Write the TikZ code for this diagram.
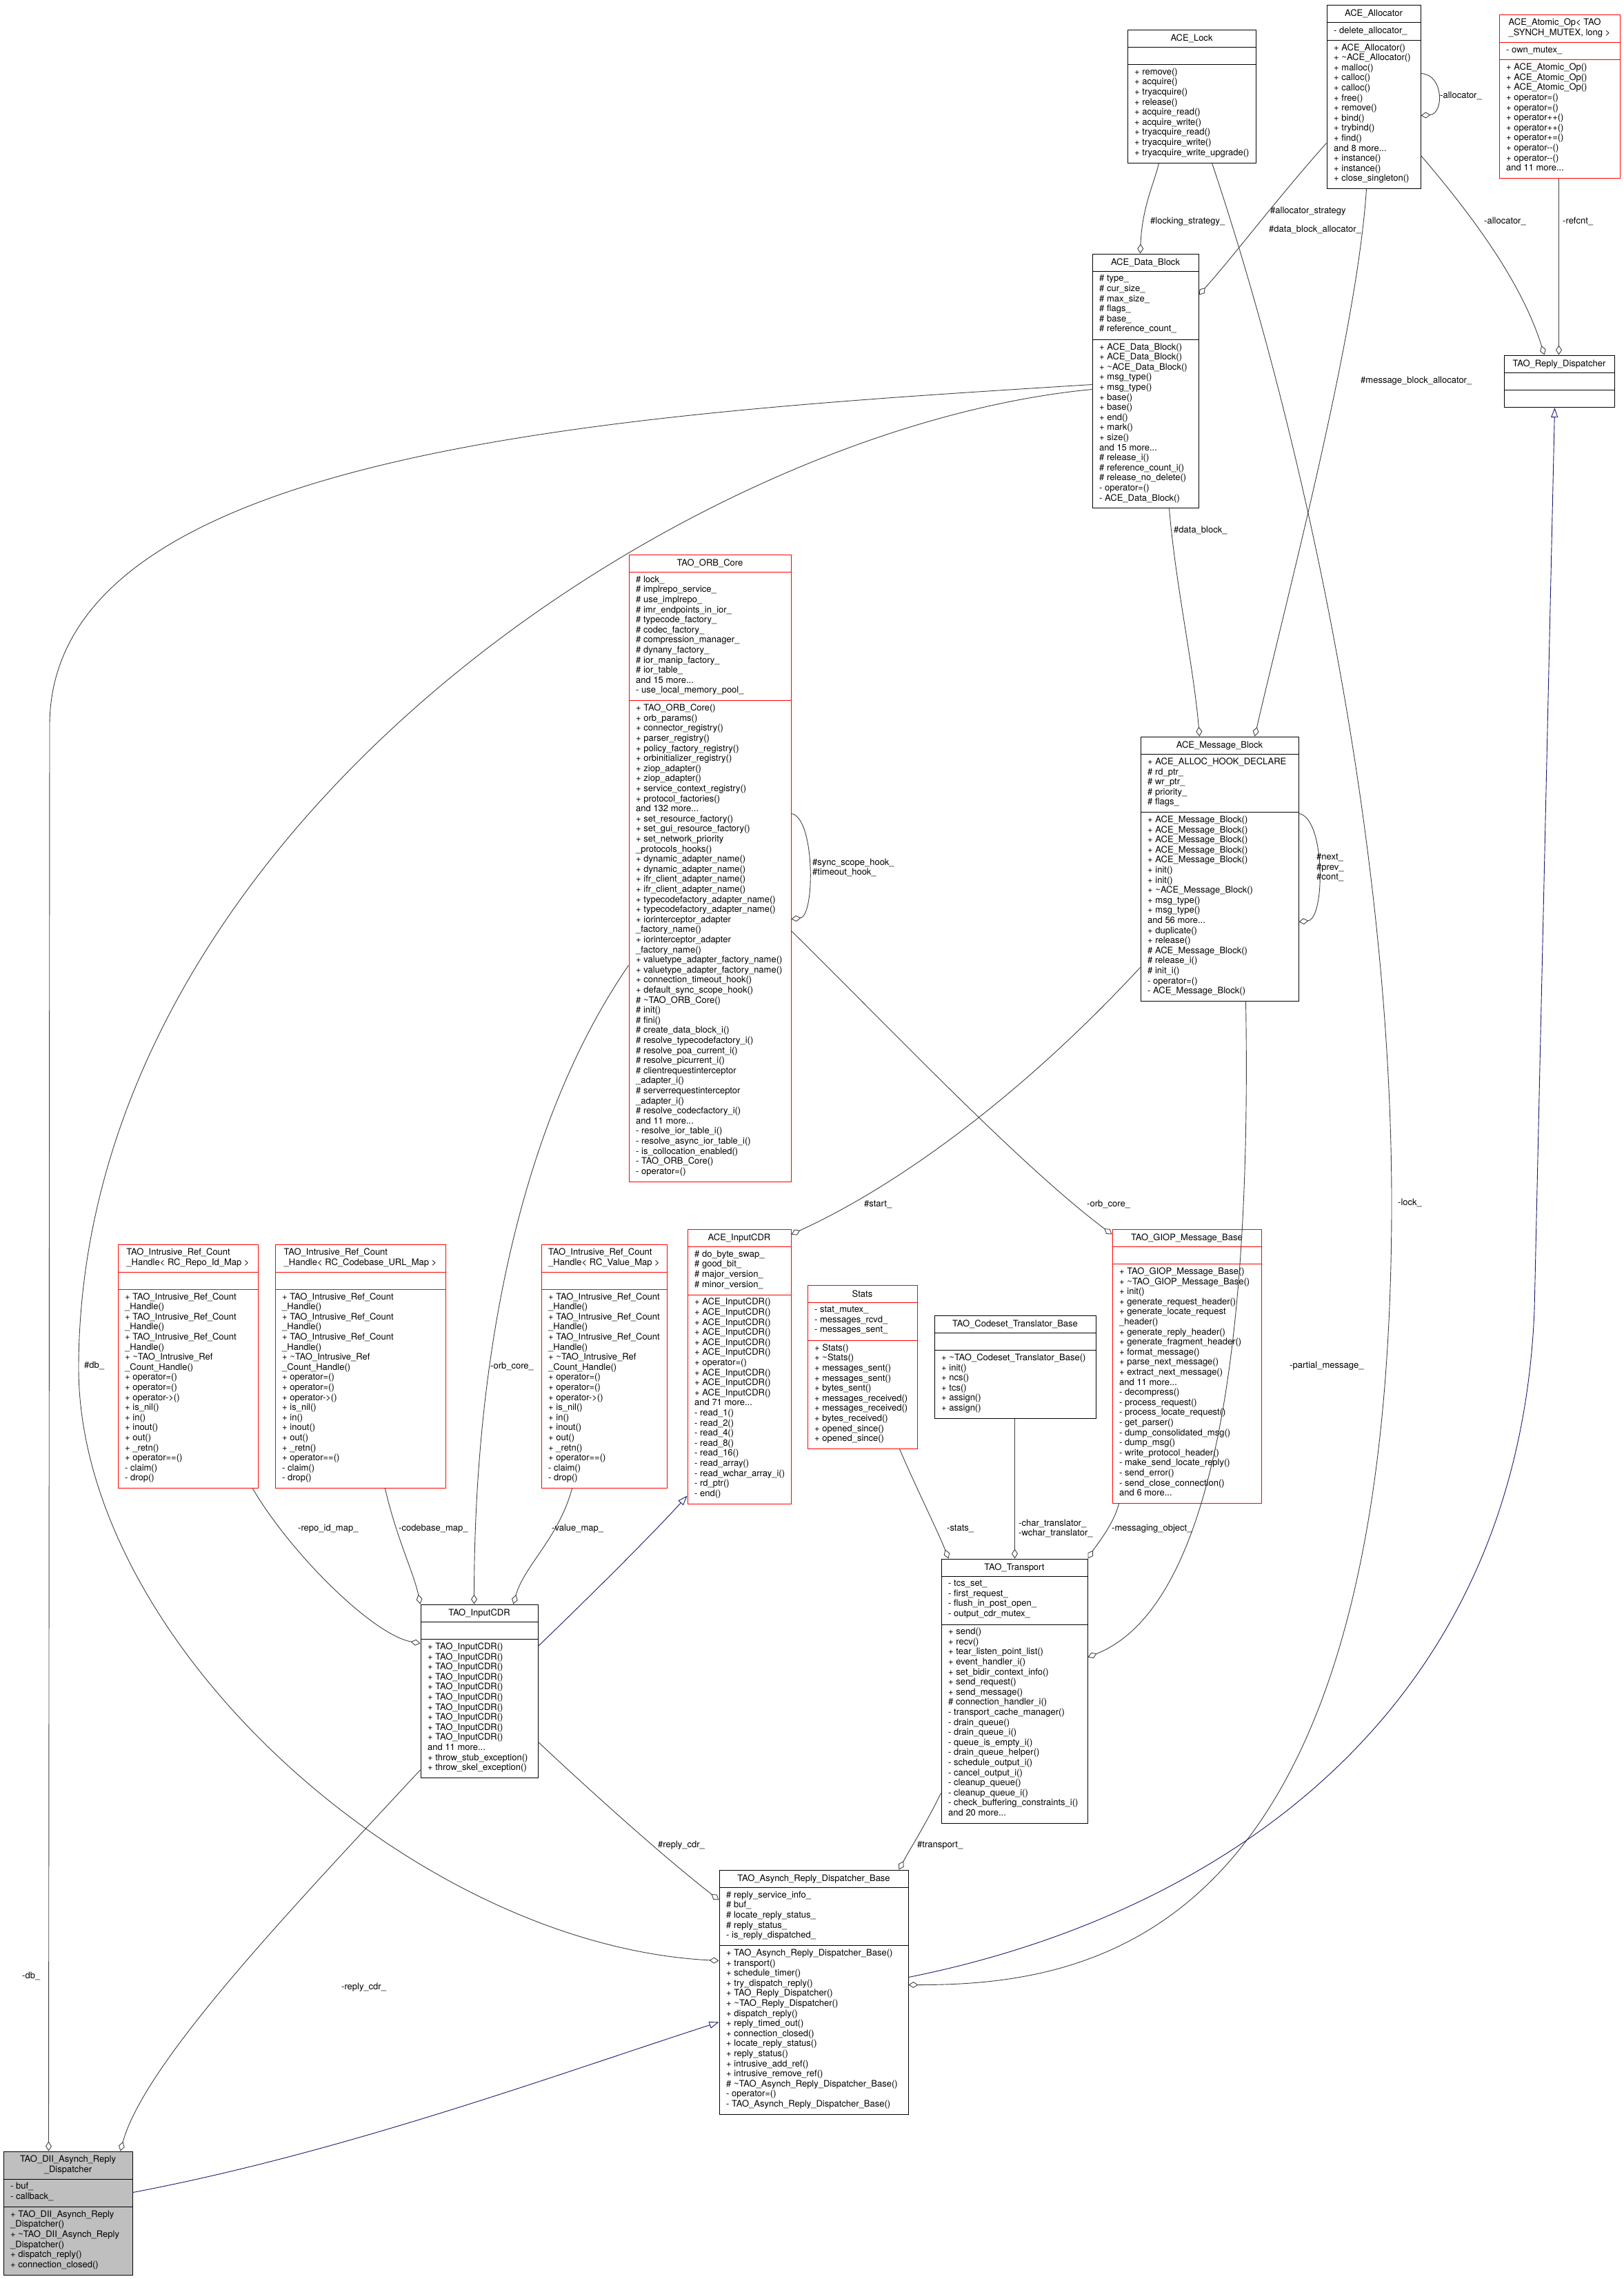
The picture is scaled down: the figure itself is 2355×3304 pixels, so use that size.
\documentclass[tikz,border=0pt]{standalone}
\usepackage{fontspec}
\setmainfont{TeX Gyre Heros}
\usetikzlibrary{arrows.meta, calc, fit}
\definecolor{doxyRed}{HTML}{FF0000}
\definecolor{doxyGrey}{HTML}{BFBFBF}
\definecolor{edgeGrey}{HTML}{404040}
\definecolor{baseBlue}{HTML}{191970}
\newcommand{\classfont}{\fontsize{13}{14.6}\selectfont}
\newcommand{\dtor}{\textasciitilde}
\newcommand{\lefttitle}[1]{\begin{tabular}{@{}l@{}}#1\end{tabular}}
\newcommand{\refhandleops}{+ TAO\_Intrusive\_Ref\_Count\\\_Handle()\\+ TAO\_Intrusive\_Ref\_Count\\\_Handle()\\+ TAO\_Intrusive\_Ref\_Count\\\_Handle()\\+ \dtor TAO\_Intrusive\_Ref\\\_Count\_Handle()\\+ operator=()\\+ operator=()\\+ operator->()\\+ is\_nil()\\+ in()\\+ inout()\\+ out()\\+ \_retn()\\+ operator==()\\- claim()\\- drop()}
% caja de clase: nombre, estilo, x, arriba, derecha, lineas titulo/atributos/metodos, titulo
\newcommand{\umlclass}[9]{%
  \pgfmathsetmacro{\ya}{#4+#6*14.6+11}%
  \pgfmathsetmacro{\yb}{\ya+ifthenelse(#7==0,25,#7*14.6+11)}%
  \pgfmathsetmacro{\yc}{\yb+ifthenelse(#8==0,25,#8*14.6+11)}%
  \node[classbox, #2, fit={(#3,#4) (#5,\yc)}] (#1) {};
  \draw[#2, line width=1pt, fill=none] (#3,\ya) -- (#5,\ya) (#3,\yb) -- (#5,\yb);
  \node[classtitle] (#1-t) at ($(#3,#4)!0.5!(#5,\ya)$) {#9};
  \coordinate (#1-a) at (#3,\ya);
  \coordinate (#1-m) at (#3,\yb);
}
\tikzset{
  classbox/.style={inner sep=0pt, line width=1pt},
  plainbox/.style={draw=black, fill=white},
  redbox/.style={draw=doxyRed, fill=white},
  hostbox/.style={draw=black, fill=doxyGrey},
  classtitle/.style={font=\classfont, align=center, inner sep=0pt},
  members/.style={font=\classfont, align=left, inner sep=0pt, anchor=north west, execute at begin node=\strut},
  elabel/.style={font=\classfont, align=left, inner sep=0pt, anchor=west},
  member/.style={draw=edgeGrey, line width=0.9pt, -{Diamond[open, length=14pt, width=9pt]}},
  inherit/.style={draw=baseBlue, line width=0.9pt, -{Triangle[open, length=14pt, width=10pt]}}
}

\begin{document}
\begin{tikzpicture}[x=1pt, y=-1pt]
    \useasboundingbox (0,0) rectangle (2355,3304);

    % clases de arriba
    \umlclass{lock}{plainbox}{1635}{43}{1821}{1}{0}{9}{ACE\_Lock}
    \node[members] (lock-ops) at ($(lock-m)+(10,5)$) {+ remove()\\+ acquire()\\+ tryacquire()\\+ release()\\+ acquire\_read()\\+ acquire\_write()\\+ tryacquire\_read()\\+ tryacquire\_write()\\+ tryacquire\_write\_upgrade()};

    \umlclass{alloc}{plainbox}{1924}{7}{2060}{1}{1}{14}{ACE\_Allocator}
    \node[members] (alloc-attrs) at ($(alloc-a)+(10,5)$) {- delete\_allocator\_};
    \node[members] (alloc-ops) at ($(alloc-m)+(10,5)$) {+ ACE\_Allocator()\\+ \dtor ACE\_Allocator()\\+ malloc()\\+ calloc()\\+ calloc()\\+ free()\\+ remove()\\+ bind()\\+ trybind()\\+ find()\\and 8 more...\\+ instance()\\+ instance()\\+ close\_singleton()};

    \umlclass{atomic}{redbox}{2174}{21}{2349}{2}{1}{11}{\lefttitle{ACE\_Atomic\_Op< TAO\\\_SYNCH\_MUTEX, long >}}
    \node[members] (atomic-attrs) at ($(atomic-a)+(10,5)$) {- own\_mutex\_};
    \node[members] (atomic-ops) at ($(atomic-m)+(10,5)$) {+ ACE\_Atomic\_Op()\\+ ACE\_Atomic\_Op()\\+ ACE\_Atomic\_Op()\\+ operator=()\\+ operator=()\\+ operator++()\\+ operator++()\\+ operator+=()\\+ operator-{}-()\\+ operator-{}-()\\and 11 more...};

    \umlclass{replydisp}{plainbox}{2181}{515}{2341}{1}{0}{0}{TAO\_Reply\_Dispatcher}

    \umlclass{datablock}{plainbox}{1584}{368}{1738}{1}{6}{16}{ACE\_Data\_Block}
    \node[members] (datablock-attrs) at ($(datablock-a)+(10,5)$) {\# type\_\\\# cur\_size\_\\\# max\_size\_\\\# flags\_\\\# base\_\\\# reference\_count\_};
    \node[members] (datablock-ops) at ($(datablock-m)+(10,5)$) {+ ACE\_Data\_Block()\\+ ACE\_Data\_Block()\\+ \dtor ACE\_Data\_Block()\\+ msg\_type()\\+ msg\_type()\\+ base()\\+ base()\\+ end()\\+ mark()\\+ size()\\and 15 more...\\\# release\_i()\\\# reference\_count\_i()\\\# release\_no\_delete()\\- operator=()\\- ACE\_Data\_Block()};

    % clases del medio
    \umlclass{orbcore}{redbox}{912}{804}{1147}{1}{12}{47}{TAO\_ORB\_Core}
    \node[members] (orbcore-attrs) at ($(orbcore-a)+(10,5)$) {\# lock\_\\\# implrepo\_service\_\\\# use\_implrepo\_\\\# imr\_endpoints\_in\_ior\_\\\# typecode\_factory\_\\\# codec\_factory\_\\\# compression\_manager\_\\\# dynany\_factory\_\\\# ior\_manip\_factory\_\\\# ior\_table\_\\and 15 more...\\- use\_local\_memory\_pool\_};
    \node[members] (orbcore-ops) at ($(orbcore-m)+(10,5)$) {+ TAO\_ORB\_Core()\\+ orb\_params()\\+ connector\_registry()\\+ parser\_registry()\\+ policy\_factory\_registry()\\+ orbinitializer\_registry()\\+ ziop\_adapter()\\+ ziop\_adapter()\\+ service\_context\_registry()\\+ protocol\_factories()\\and 132 more...\\+ set\_resource\_factory()\\+ set\_gui\_resource\_factory()\\+ set\_network\_priority\\\_protocols\_hooks()\\+ dynamic\_adapter\_name()\\+ dynamic\_adapter\_name()\\+ ifr\_client\_adapter\_name()\\+ ifr\_client\_adapter\_name()\\+ typecodefactory\_adapter\_name()\\+ typecodefactory\_adapter\_name()\\+ iorinterceptor\_adapter\\\_factory\_name()\\+ iorinterceptor\_adapter\\\_factory\_name()\\+ valuetype\_adapter\_factory\_name()\\+ valuetype\_adapter\_factory\_name()\\+ connection\_timeout\_hook()\\+ default\_sync\_scope\_hook()\\\# \dtor TAO\_ORB\_Core()\\\# init()\\\# fini()\\\# create\_data\_block\_i()\\\# resolve\_typecodefactory\_i()\\\# resolve\_poa\_current\_i()\\\# resolve\_picurrent\_i()\\\# clientrequestinterceptor\\\_adapter\_i()\\\# serverrequestinterceptor\\\_adapter\_i()\\\# resolve\_codecfactory\_i()\\and 11 more...\\- resolve\_ior\_table\_i()\\- resolve\_async\_ior\_table\_i()\\- is\_collocation\_enabled()\\- TAO\_ORB\_Core()\\- operator=()};

    \umlclass{msgblock}{plainbox}{1654}{1068}{1883}{1}{5}{18}{ACE\_Message\_Block}
    \node[members] (msgblock-attrs) at ($(msgblock-a)+(10,5)$) {+ ACE\_ALLOC\_HOOK\_DECLARE\\\# rd\_ptr\_\\\# wr\_ptr\_\\\# priority\_\\\# flags\_};
    \node[members] (msgblock-ops) at ($(msgblock-m)+(10,5)$) {+ ACE\_Message\_Block()\\+ ACE\_Message\_Block()\\+ ACE\_Message\_Block()\\+ ACE\_Message\_Block()\\+ ACE\_Message\_Block()\\+ init()\\+ init()\\+ \dtor ACE\_Message\_Block()\\+ msg\_type()\\+ msg\_type()\\and 56 more...\\+ duplicate()\\+ release()\\\# ACE\_Message\_Block()\\\# release\_i()\\\# init\_i()\\- operator=()\\- ACE\_Message\_Block()};

    \umlclass{repomap}{redbox}{171}{1804}{374}{2}{0}{19}{\lefttitle{TAO\_Intrusive\_Ref\_Count\\\_Handle< RC\_Repo\_Id\_Map >}}
    \node[members] (repomap-ops) at ($(repomap-m)+(10,5)$) {\refhandleops};

    \umlclass{codebasemap}{redbox}{399}{1804}{646}{2}{0}{19}{\lefttitle{TAO\_Intrusive\_Ref\_Count\\\_Handle< RC\_Codebase\_URL\_Map >}}
    \node[members] (codebasemap-ops) at ($(codebasemap-m)+(10,5)$) {\refhandleops};

    \umlclass{valuemap}{redbox}{785}{1804}{967}{2}{0}{19}{\lefttitle{TAO\_Intrusive\_Ref\_Count\\\_Handle< RC\_Value\_Map >}}
    \node[members] (valuemap-ops) at ($(valuemap-m)+(10,5)$) {\refhandleops};

    \umlclass{inputcdr}{redbox}{997}{1782}{1147}{1}{4}{20}{ACE\_InputCDR}
    \node[members] (inputcdr-attrs) at ($(inputcdr-a)+(10,5)$) {\# do\_byte\_swap\_\\\# good\_bit\_\\\# major\_version\_\\\# minor\_version\_};
    \node[members] (inputcdr-ops) at ($(inputcdr-m)+(10,5)$) {+ ACE\_InputCDR()\\+ ACE\_InputCDR()\\+ ACE\_InputCDR()\\+ ACE\_InputCDR()\\+ ACE\_InputCDR()\\+ ACE\_InputCDR()\\+ operator=()\\+ ACE\_InputCDR()\\+ ACE\_InputCDR()\\+ ACE\_InputCDR()\\and 71 more...\\- read\_1()\\- read\_2()\\- read\_4()\\- read\_8()\\- read\_16()\\- read\_array()\\- read\_wchar\_array\_i()\\- rd\_ptr()\\- end()};

    \umlclass{stats}{redbox}{1171}{1863}{1330}{1}{3}{10}{Stats}
    \node[members] (stats-attrs) at ($(stats-a)+(10,5)$) {- stat\_mutex\_\\- messages\_rcvd\_\\- messages\_sent\_};
    \node[members] (stats-ops) at ($(stats-m)+(10,5)$) {+ Stats()\\+ \dtor Stats()\\+ messages\_sent()\\+ messages\_sent()\\+ bytes\_sent()\\+ messages\_received()\\+ messages\_received()\\+ bytes\_received()\\+ opened\_since()\\+ opened\_since()};

    \umlclass{codeset}{plainbox}{1355}{1907}{1589}{1}{0}{6}{TAO\_Codeset\_Translator\_Base}
    \node[members] (codeset-ops) at ($(codeset-m)+(10,5)$) {+ \dtor TAO\_Codeset\_Translator\_Base()\\+ init()\\+ ncs()\\+ tcs()\\+ assign()\\+ assign()};

    \umlclass{giop}{redbox}{1613}{1782}{1829}{1}{0}{23}{TAO\_GIOP\_Message\_Base}
    \node[members] (giop-ops) at ($(giop-m)+(10,5)$) {+ TAO\_GIOP\_Message\_Base()\\+ \dtor TAO\_GIOP\_Message\_Base()\\+ init()\\+ generate\_request\_header()\\+ generate\_locate\_request\\\_header()\\+ generate\_reply\_header()\\+ generate\_fragment\_header()\\+ format\_message()\\+ parse\_next\_message()\\+ extract\_next\_message()\\and 11 more...\\- decompress()\\- process\_request()\\- process\_locate\_request()\\- get\_parser()\\- dump\_consolidated\_msg()\\- dump\_msg()\\- write\_protocol\_header()\\- make\_send\_locate\_reply()\\- send\_error()\\- send\_close\_connection()\\and 6 more...};

    % clases de abajo
    \umlclass{taoinputcdr}{plainbox}{610}{2326}{780}{1}{0}{13}{TAO\_InputCDR}
    \node[members] (taoinputcdr-ops) at ($(taoinputcdr-m)+(10,5)$) {+ TAO\_InputCDR()\\+ TAO\_InputCDR()\\+ TAO\_InputCDR()\\+ TAO\_InputCDR()\\+ TAO\_InputCDR()\\+ TAO\_InputCDR()\\+ TAO\_InputCDR()\\+ TAO\_InputCDR()\\+ TAO\_InputCDR()\\+ TAO\_InputCDR()\\and 11 more...\\+ throw\_stub\_exception()\\+ throw\_skel\_exception()};

    \umlclass{transport}{plainbox}{1365}{2260}{1577}{1}{4}{19}{TAO\_Transport}
    \node[members] (transport-attrs) at ($(transport-a)+(10,5)$) {- tcs\_set\_\\- first\_request\_\\- flush\_in\_post\_open\_\\- output\_cdr\_mutex\_};
    \node[members] (transport-ops) at ($(transport-m)+(10,5)$) {+ send()\\+ recv()\\+ tear\_listen\_point\_list()\\+ event\_handler\_i()\\+ set\_bidir\_context\_info()\\+ send\_request()\\+ send\_message()\\\# connection\_handler\_i()\\- transport\_cache\_manager()\\- drain\_queue()\\- drain\_queue\_i()\\- queue\_is\_empty\_i()\\- drain\_queue\_helper()\\- schedule\_output\_i()\\- cancel\_output\_i()\\- cleanup\_queue()\\- cleanup\_queue\_i()\\- check\_buffering\_constraints\_i()\\and 20 more...};

    \umlclass{asynchbase}{plainbox}{1043}{2711}{1317}{1}{5}{16}{TAO\_Asynch\_Reply\_Dispatcher\_Base}
    \node[members] (asynchbase-attrs) at ($(asynchbase-a)+(10,5)$) {\# reply\_service\_info\_\\\# buf\_\\\# locate\_reply\_status\_\\\# reply\_status\_\\- is\_reply\_dispatched\_};
    \node[members] (asynchbase-ops) at ($(asynchbase-m)+(10,5)$) {+ TAO\_Asynch\_Reply\_Dispatcher\_Base()\\+ transport()\\+ schedule\_timer()\\+ try\_dispatch\_reply()\\+ TAO\_Reply\_Dispatcher()\\+ \dtor TAO\_Reply\_Dispatcher()\\+ dispatch\_reply()\\+ reply\_timed\_out()\\+ connection\_closed()\\+ locate\_reply\_status()\\+ reply\_status()\\+ intrusive\_add\_ref()\\+ intrusive\_remove\_ref()\\\# \dtor TAO\_Asynch\_Reply\_Dispatcher\_Base()\\- operator=()\\- TAO\_Asynch\_Reply\_Dispatcher\_Base()};

    \umlclass{dii}{hostbox}{5}{3119}{192}{2}{2}{6}{\begin{tabular}{@{}c@{}}TAO\_DII\_Asynch\_Reply\\\_Dispatcher\end{tabular}}
    \node[members] (dii-attrs) at ($(dii-a)+(10,5)$) {- buf\_\\- callback\_};
    \node[members] (dii-ops) at ($(dii-m)+(10,5)$) {+ TAO\_DII\_Asynch\_Reply\\\_Dispatcher()\\+ \dtor TAO\_DII\_Asynch\_Reply\\\_Dispatcher()\\+ dispatch\_reply()\\+ connection\_closed()};

    % relaciones de miembro
    \draw[member] ($(lock.south west)+(46,0)$) .. controls (1674,265) and (1656,300) .. ($(datablock.north west)+(70,0)$);
    \draw[member] ($(alloc.north west)+(0,201)$) .. controls (1850,290) and (1790,370) .. ($(datablock.north east)+(0,60)$);
    \draw[member] ($(alloc.south west)+(58,0)$) .. controls (1968,480) and (1870,850) .. ($(msgblock.north west)+(166,0)$);
    \draw[member] ($(datablock.south west)+(112,0)$) .. controls (1705,850) and (1730,960) .. ($(msgblock.north west)+(86,0)$);
    \draw[member] ($(msgblock.north east)+(0,112)$) .. controls (1922,1185) and (1922,1332) .. ($(msgblock.north east)+(0,269)$);
    \draw[member] ($(orbcore.north east)+(0,376)$) .. controls (1182,1185) and (1182,1328) .. ($(orbcore.north east)+(0,529)$);
    \draw[member] ($(msgblock.north west)+(0,335)$) .. controls (1480,1590) and (1300,1720) .. ($(inputcdr.north east)+(0,8)$);
    \draw[member] ($(orbcore.north east)+(0,546)$) .. controls (1300,1500) and (1480,1690) .. ($(giop.north west)+(0,8)$);
    \draw[member] ($(orbcore.north west)+(0,596)$) .. controls (760,1620) and (688,1950) .. ($(taoinputcdr.north west)+(78,0)$);
    \draw[member] ($(repomap.south east)+(-8,0)$) .. controls (420,2250) and (540,2370) .. ($(taoinputcdr.north west)+(0,57)$);
    \draw[member] ($(codebasemap.south west)+(160,0)$) .. controls (575,2230) and (600,2280) .. (taoinputcdr.north west);
    \draw[member] ($(valuemap.south west)+(45,0)$) .. controls (810,2230) and (760,2270) .. ($(taoinputcdr.north west)+(135,0)$);
    \draw[member] ($(taoinputcdr.north east)+(0,200)$) .. controls (860,2600) and (960,2690) .. ($(asynchbase.north west)+(0,44)$);
    \draw[member] ($(taoinputcdr.south west)+(0,-12)$) .. controls (420,2770) and (210,2990) .. ($(dii.north west)+(170,0)$);
    \draw[member] ($(datablock.north west)+(0,190)$) .. controls (900,600) and (75,650) .. (72,1050) -- ($(dii.north west)+(66,0)$);
    \draw[member] ($(datablock.north west)+(0,197)$) .. controls (1000,620) and (118,1200) .. (114,1980) .. controls (112,2380) and (600,2820) .. ($(asynchbase.north west)+(0,132)$);
    \draw[member] ($(lock.south west)+(123,0)$) .. controls (1880,600) and (2018,1200) .. (2018,1744) .. controls (2018,2800) and (1600,2878) .. ($(asynchbase.north east)+(0,167)$);
    \draw[member] ($(transport.north west)+(0,340)$) .. controls (1345,2640) and (1320,2680) .. ($(asynchbase.north east)+(-14,0)$);
    \draw[member] ($(stats.south west)+(134,0)$) .. controls (1330,2160) and (1360,2220) .. ($(transport.north west)+(11,0)$);
    \draw[member] ($(codeset.south west)+(117,0)$) -- ($(transport.north west)+(107,0)$);
    \draw[member] ($(giop.south west)+(10,0)$) .. controls (1615,2210) and (1590,2240) .. (transport.north east);
    \draw[member] ($(msgblock.south west)+(153,0)$) .. controls (1815,1950) and (1760,2330) .. ($(transport.north east)+(0,143)$);
    \draw[member] ($(alloc.north east)+(0,100)$) .. controls (2094,108) and (2094,165) .. ($(alloc.north east)+(0,161)$);
    \draw[member] ($(alloc.north east)+(0,219)$) .. controls (2150,330) and (2210,420) .. ($(replydisp.north west)+(59,0)$);
    \draw[member] ($(atomic.south west)+(87,0)$) -- ($(replydisp.north west)+(80,0)$);

    % herencia
    \draw[inherit] ($(taoinputcdr.north east)+(0,61)$) .. controls (860,2310) and (950,2220) .. ($(inputcdr.south west)+(0,-12)$);
    \draw[inherit] ($(asynchbase.north east)+(0,156)$) .. controls (1750,2780) and (2200,2500) .. (2225,1900) -- ($(replydisp.south west)+(74,0)$);
    \draw[inherit] ($(dii.north east)+(0,60)$) .. controls (500,3120) and (800,3010) .. ($(asynchbase.north west)+(0,221)$);

    % etiquetas
    \node[elabel] (lbl-locking) at (1668,321) {\#locking\_strategy\_};
    \node[elabel] (lbl-allocstrat) at (1842,306) {\#allocator\_strategy};
    \node[elabel] (lbl-dballoc) at (1840,333) {\#data\_block\_allocator\_};
    \node[elabel] (lbl-mballoc) at (1973,552) {\#message\_block\_allocator\_};
    \node[elabel] (lbl-datablock) at (1702,769) {\#data\_block\_};
    \node[elabel] (lbl-chain) at (1909,1258) {\#next\_\\\#prev\_\\\#cont\_};
    \node[elabel] (lbl-hooks) at (1178,1258) {\#sync\_scope\_hook\_\\\#timeout\_hook\_};
    \node[elabel] (lbl-start) at (1253,1746) {\#start\_};
    \node[elabel] (lbl-orbgiop) at (1576,1746) {-orb\_core\_};
    \node[elabel] (lbl-orbcdr) at (711,1981) {-orb\_core\_};
    \node[elabel] (lbl-repo) at (432,2216) {-repo\_id\_map\_};
    \node[elabel] (lbl-codebase) at (578,2216) {-codebase\_map\_};
    \node[elabel] (lbl-value) at (800,2216) {-value\_map\_};
    \node[elabel] (lbl-stats) at (1373,2216) {-stats\_};
    \node[elabel] (lbl-translator) at (1477,2216) {-char\_translator\_\\-wchar\_translator\_};
    \node[elabel] (lbl-messaging) at (1612,2216) {-messaging\_object\_};
    \node[elabel] (lbl-partial) at (1870,1980) {-partial\_message\_};
    \node[elabel] (lbl-lock) at (2027,1744) {-lock\_};
    \node[elabel] (lbl-dbprot) at (122,1980) {\#db\_};
    \node[elabel] (lbl-dbpriv) at (32,2865) {-db\_};
    \node[elabel] (lbl-replyprot) at (954,2675) {\#reply\_cdr\_};
    \node[elabel] (lbl-replypriv) at (495,2881) {-reply\_cdr\_};
    \node[elabel] (lbl-transport) at (1330,2675) {\#transport\_};
    \node[elabel] (lbl-selfalloc) at (2088,139) {-allocator\_};
    \node[elabel] (lbl-alloc) at (2152,321) {-allocator\_};
    \node[elabel] (lbl-refcnt) at (2266,321) {-refcnt\_};
\end{tikzpicture}
\end{document}
